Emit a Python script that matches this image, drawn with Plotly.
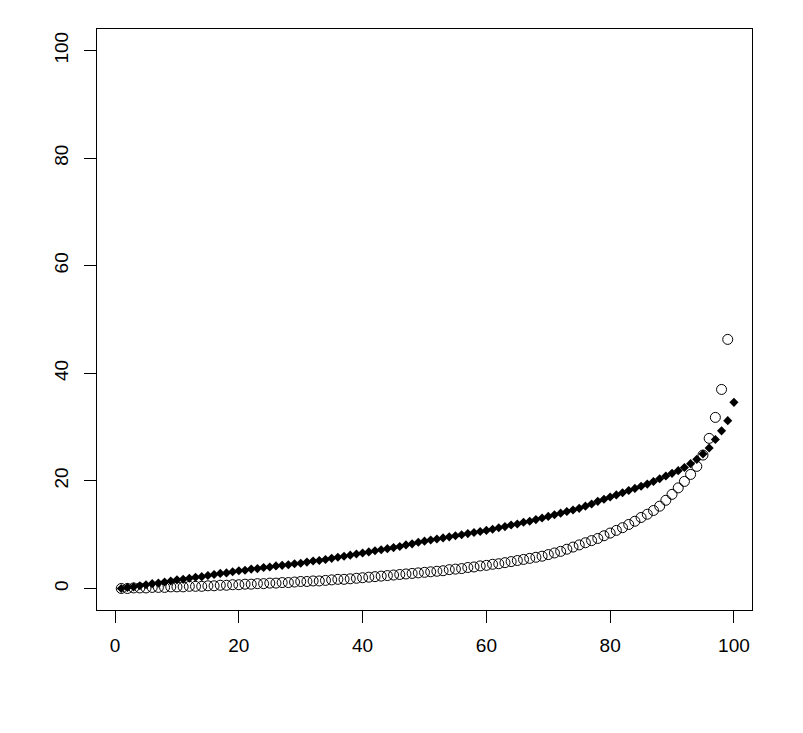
import plotly.graph_objs as go

# filled diamonds, x = 1..100
diamond_x = list(range(1, 101))
diamond_y = [
    0.0, 0.2, 0.3, 0.5, 0.7, 0.9, 1.0, 1.2, 1.4, 1.6,
    1.7, 1.9, 2.1, 2.2, 2.4, 2.6, 2.8, 2.9, 3.1, 3.3,
    3.4, 3.6, 3.7, 3.9, 4.0, 4.2, 4.3, 4.4, 4.6, 4.7,
    4.9, 5.1, 5.2, 5.4, 5.6, 5.8, 6.0, 6.2, 6.4, 6.6,
    6.8, 7.0, 7.2, 7.4, 7.6, 7.8, 8.1, 8.3, 8.6, 8.8,
    9.0, 9.2, 9.4, 9.6, 9.8, 10.0, 10.2, 10.4, 10.6, 10.8,
    11.0, 11.3, 11.5, 11.8, 12.0, 12.3, 12.5, 12.8, 13.1, 13.4,
    13.7, 14.0, 14.3, 14.6, 14.9, 15.3, 15.7, 16.2, 16.6, 17.0,
    17.4, 17.8, 18.2, 18.6, 19.0, 19.4, 19.9, 20.4, 20.9, 21.4,
    21.9, 22.5, 23.2, 24.0, 25.0, 26.1, 27.7, 29.3, 31.2, 34.6,
]

# open circles, x = 1..99
circle_x = list(range(1, 100))
circle_y = [
    0.0, 0.0, 0.1, 0.1, 0.1, 0.2, 0.2, 0.2, 0.3, 0.3,
    0.3, 0.4, 0.4, 0.4, 0.5, 0.5, 0.6, 0.6, 0.7, 0.7,
    0.8, 0.8, 0.9, 0.9, 1.0, 1.0, 1.1, 1.1, 1.2, 1.3,
    1.3, 1.4, 1.4, 1.5, 1.6, 1.7, 1.7, 1.8, 1.9, 2.0,
    2.1, 2.2, 2.3, 2.4, 2.5, 2.6, 2.7, 2.8, 2.9, 3.0,
    3.1, 3.2, 3.3, 3.5, 3.6, 3.7, 3.9, 4.0, 4.2, 4.3,
    4.5, 4.6, 4.8, 5.0, 5.2, 5.4, 5.6, 5.8, 6.0, 6.3,
    6.6, 6.9, 7.3, 7.7, 8.1, 8.5, 8.9, 9.3, 9.8, 10.3,
    10.8, 11.3, 11.9, 12.5, 13.2, 13.8, 14.5, 15.3, 16.4, 17.5,
    18.7, 19.9, 21.2, 22.7, 24.8, 27.9, 31.8, 37.0, 46.3,
]

x_ticks = [0, 20, 40, 60, 80, 100]
y_ticks = [0, 20, 40, 60, 80, 100]

fig = go.Figure()
fig.add_trace(go.Scatter(x=circle_x, y=circle_y, mode='markers',
                         marker=dict(symbol='circle-open', size=10, color='black',
                                     line=dict(width=1, color='black'))))
fig.add_trace(go.Scatter(x=diamond_x, y=diamond_y, mode='markers',
                         marker=dict(symbol='diamond', size=7, color='black')))

axis_style = dict(showline=True, mirror=True, linecolor='black', linewidth=1,
                  showgrid=False, zeroline=False, ticks='outside', ticklen=12,
                  tickcolor='black', tickwidth=1,
                  tickfont=dict(family='Liberation Sans, Arial', size=19, color='black'))

fig.update_xaxes(range=[-2.92, 102.92], tickvals=x_ticks, ticklabelstandoff=6, **axis_style)
fig.update_yaxes(range=[-4, 104], tickvals=y_ticks, tickangle=-90, ticklabelstandoff=8, **axis_style)

# page adds an 8 px body margin, so margins are shifted to keep the box in place
fig.update_layout(width=803, height=733, showlegend=False,
                  plot_bgcolor='white', paper_bgcolor='white',
                  margin=dict(l=89, r=59, t=21, b=131))

fig.write_html("out.html")
